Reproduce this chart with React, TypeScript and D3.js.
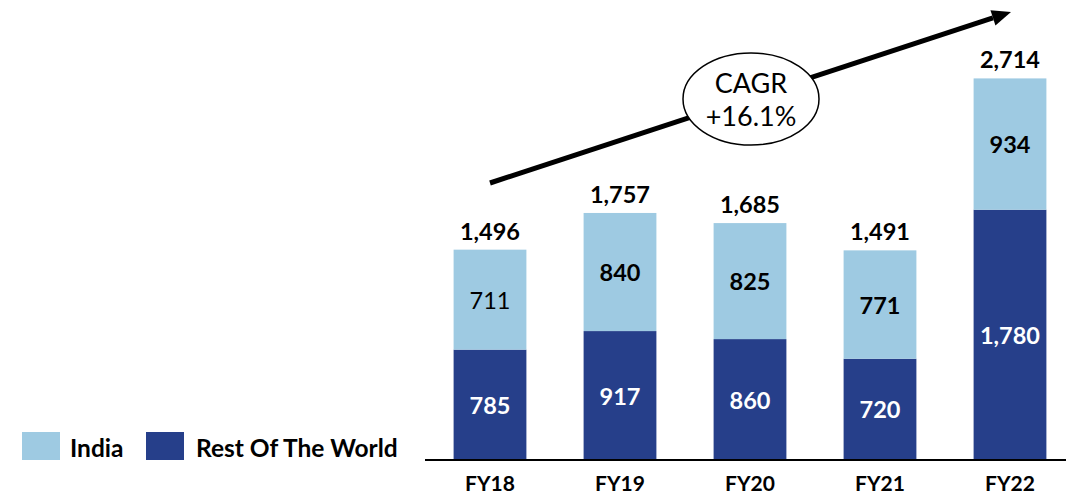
import React from "react";
import * as d3 from "d3";

const categories = ["FY18", "FY19", "FY20", "FY21", "FY22"];
const restOfWorld = [785, 917, 860, 720, 1780];
const india = [711, 840, 825, 771, 934];
const totals = [1496, 1757, 1685, 1491, 2714];
const indiaBold = [false, true, true, true, true];
const seriesNames = ["India", "Rest Of The World"];
const cagrLines = ["CAGR", "+16.1%"];

const W = 1066;
const H = 494;
const LIGHT = "#9ECAE2";
const DARK = "#263F8A";
const FONT = "Lato, 'Open Sans', sans-serif";

export default function App() {
  const x = d3
    .scaleBand<string>()
    .domain(categories)
    .range([425, 1075])
    .paddingInner(0.44)
    .paddingOuter(0.22);
  const y = d3.scaleLinear().domain([0, 2800]).range([460, 460 - 2800 * 0.1406]);
  const fmt = d3.format(",");
  const bw = x.bandwidth();

  const arrowStart: [number, number] = [490, 183];
  const arrowEnd: [number, number] = [1011, 12];
  const ang = Math.atan2(arrowEnd[1] - arrowStart[1], arrowEnd[0] - arrowStart[0]);
  const headLen = 19;
  const headHalf = 8;
  const bx = arrowEnd[0] - headLen * Math.cos(ang);
  const by = arrowEnd[1] - headLen * Math.sin(ang);
  const px = -Math.sin(ang);
  const py = Math.cos(ang);
  const head = [
    [arrowEnd[0], arrowEnd[1]],
    [bx + headHalf * px, by + headHalf * py],
    [bx - headHalf * px, by - headHalf * py],
  ]
    .map((p) => p.join(","))
    .join(" ");

  const VAL = 23.5;

  return (
    <svg width={W} height={H} style={{ position: "absolute", left: 0, top: 0, background: "#fff" }}>
      {categories.map((c, i) => {
        const x0 = x(c)!;
        const yRow = y(restOfWorld[i]);
        const yTop = y(restOfWorld[i] + india[i]);
        return (
          <g key={c}>
            <rect x={x0} y={yRow} width={bw} height={y(0) - yRow} fill={DARK} />
            <rect x={x0} y={yTop} width={bw} height={yRow - yTop} fill={LIGHT} />
            <text
              x={x0 + bw / 2}
              y={(yRow + y(0)) / 2}
              textAnchor="middle"
              dominantBaseline="central"
              fontFamily={FONT}
              fontWeight="bold"
              fontSize={VAL}
              fill="#fff"
            >
              {fmt(restOfWorld[i])}
            </text>
            <text
              x={x0 + bw / 2}
              y={(yTop + yRow) / 2}
              textAnchor="middle"
              dominantBaseline="central"
              fontFamily={FONT}
              fontWeight={indiaBold[i] ? "bold" : "normal"}
              fontSize={VAL}
              fill="#000"
            >
              {fmt(india[i])}
            </text>
            <text
              x={x0 + bw / 2}
              y={y(totals[i]) - 19}
              textAnchor="middle"
              dominantBaseline="central"
              fontFamily={FONT}
              fontWeight="bold"
              fontSize={VAL}
              fill="#000"
            >
              {fmt(totals[i])}
            </text>
            <text
              x={x0 + bw / 2}
              y={482}
              textAnchor="middle"
              dominantBaseline="central"
              fontFamily={FONT}
              fontWeight="bold"
              fontSize={21}
              fill="#000"
            >
              {c}
            </text>
          </g>
        );
      })}
      <line x1={425} x2={1066} y1={460} y2={460} stroke="#000" strokeWidth={2} />

      {/* CAGR arrow */}
      <line
        x1={arrowStart[0]}
        y1={arrowStart[1]}
        x2={bx}
        y2={by}
        stroke="#000"
        strokeWidth={5}
      />
      <polygon points={head} fill="#000" />
      <ellipse cx={751} cy={99} rx={68} ry={46} fill="#fff" stroke="#000" strokeWidth={1.5} />
      {cagrLines.map((t, i) => (
        <text
          key={t}
          x={751}
          y={82 + i * 33}
          textAnchor="middle"
          dominantBaseline="central"
          fontFamily={FONT}
          fontSize={27}
          fill="#000"
        >
          {t}
        </text>
      ))}

      {/* Legend */}
      {seriesNames.map((s, i) => {
        const lx = i === 0 ? 22 : 146;
        return (
          <g key={s}>
            <rect x={lx} y={432} width={38} height={28} fill={i === 0 ? LIGHT : DARK} />
            <text
              x={lx + (i === 0 ? 48 : 50)}
              y={447}
              dominantBaseline="central"
              fontFamily={FONT}
              fontWeight="bold"
              fontSize={24.5}
              fill="#000"
            >
              {s}
            </text>
          </g>
        );
      })}
    </svg>
  );
}
